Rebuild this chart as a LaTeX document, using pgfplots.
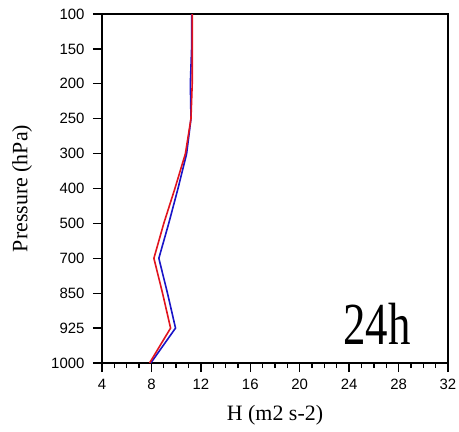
\documentclass[border=0pt]{standalone}
\usepackage{fontspec}
\setmainfont{Liberation Serif}
\setsansfont{Liberation Sans}
\usepackage{pgfplots}
\pgfplotsset{compat=1.18}
\usepackage{pgfplotstable}

\definecolor{runblue}{RGB}{25,20,200}
\definecolor{runred}{RGB}{225,20,30}

% Helicity profile at 24 h; level index 0..10 = 100..1000 hPa
\pgfplotstableread{
lev H
0  11.25
1  11.25
2  11.15
3  11.2
4  10.85
5  10.15
6  9.4
7  8.6
8  9.3
9  9.95
10 7.95
}\bluedata
\pgfplotstableread{
lev H
0  11.3
1  11.3
2  11.3
3  11.2
4  10.75
5  9.9
6  9.0
7  8.2
8  8.9
9  9.55
10 7.85
}\reddata

\begin{document}
\begin{tikzpicture}
\useasboundingbox (-102bp,-69bp) rectangle (357bp,363bp);
\begin{axis}[
  scale only axis,
  width=346bp, height=349bp,
  xmin=4, xmax=32, ymin=0, ymax=10,
  y dir=reverse,
  xtick={4,8,...,32},
  minor x tick num=3,
  ytick={0,...,10},
  yticklabels={100,150,200,250,300,400,500,700,850,925,1000},
  xtick pos=bottom, ytick pos=left,
  tick align=outside,
  major tick length=9bp, minor tick length=5bp,
  every tick/.style={black, line width=1.3bp},
  axis line style={line width=1.5bp},
  tick label style={font=\sffamily\fontsize{15}{15}\selectfont},
  /pgf/number format/assume math mode=true,
  yticklabel style={xshift=-5bp},
  xticklabel style={yshift=-4bp},
  xlabel={H (m2 s-2)},
  ylabel={Pressure (hPa)},
  label style={font=\fontsize{22}{22}\selectfont},
  xlabel style={at={(axis description cs:0.5,-0.149)}, anchor=center},
  ylabel style={at={(axis description cs:-0.231,0.5)}, anchor=center},
  clip=false,
]
\addplot[runblue, line width=1.6bp] table[x=H, y=lev] {\bluedata};
\addplot[runred, line width=1.6bp] table[x=H, y=lev] {\reddata};
\node[anchor=base, font=\fontsize{45}{45}\selectfont, yscale=1.33, inner sep=0pt]
  at (axis cs:26.25,9.48) {24h};
\end{axis}
\end{tikzpicture}
\end{document}
